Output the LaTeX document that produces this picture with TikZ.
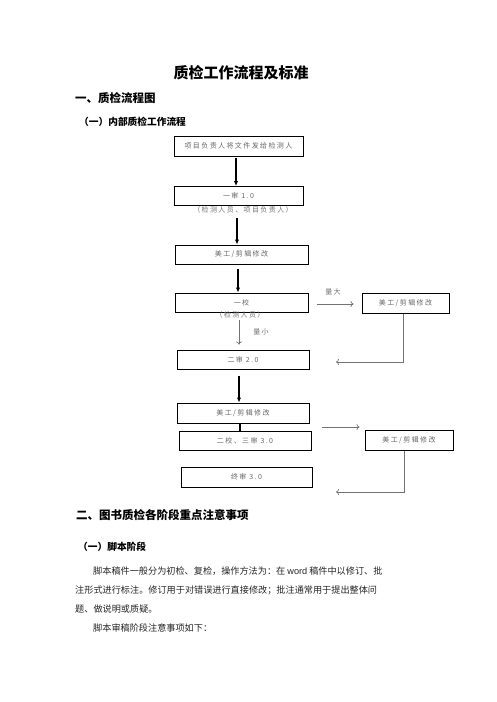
\documentclass[tikz,border=0pt]{standalone}
\usepackage{fontspec}
\setmainfont{Liberation Sans}
\newfontfamily\cjk{Noto Sans CJK SC}
\newfontfamily\cjkbox[LetterSpace=20]{Noto Sans CJK SC}
\usetikzlibrary{arrows.meta}
\tikzset{
  box/.style={draw, line width=1pt, inner sep=0pt, minimum height=19pt,
    font=\cjkbox\fontsize{7}{8}\selectfont, text=black!60},
  small/.style={inner sep=0pt, font=\cjkbox\fontsize{7}{8}\selectfont, text=black!55},
  thickarr/.style={line width=1.6pt, -{Latex[length=5pt,width=4.5pt]}},
  thickline/.style={line width=1.8pt},
  thinarr/.style={draw=black!55, line width=0.7pt, -{To[length=3pt,width=6pt]}},
  head/.style={anchor=west, inner sep=0pt, font=\cjk\bfseries\fontsize{11.5}{13}\selectfont},
  subhead/.style={anchor=west, inner sep=0pt, font=\cjk\bfseries\fontsize{9.7}{11}\selectfont},
  body/.style={anchor=west, inner sep=0pt, font=\cjk\fontsize{9.15}{11}\selectfont, text=black!85},
}
\begin{document}
\begin{tikzpicture}[x=1pt,y=-1pt]
\useasboundingbox (0,0) rectangle (496,702);
\fill[white] (0,0) rectangle (496,702);

% headings
\node[inner sep=0pt, font=\cjk\bfseries\fontsize{15}{18}\selectfont] (title) at (241,73) {质检工作流程及标准};
\node[head] (h1) at (75,98) {一、质检流程图};
\node[subhead] (h11) at (79,122) {（一）内部质检工作流程};

% flow boxes
\node[box, minimum width=129pt, minimum height=20pt] (b1) at (238.5,146) {项目负责人将文件发给检测人};
\node[box, minimum width=129pt] (b2) at (238.5,196) {一审 1.0};
\node[small] (sub2) at (243,209.5) {（检测人员、项目负责人）};
\node[box, minimum width=133pt] (b3) at (241.5,254.5) {美工/剪辑修改};
\node[box, minimum width=133pt] (b4) at (241.5,302.5) {一校};
\node[small] (sub4) at (240,314.5) {（检测人员）};
\node[box, minimum width=87pt, minimum height=20pt] (r1) at (405.5,303) {美工/剪辑修改};
\node[box, minimum width=132pt] (b5) at (243,359.5) {二审 2.0};
\node[box, minimum width=132pt, minimum height=20pt] (b6) at (243,413) {美工/剪辑修改};
\node[box, minimum width=132pt] (b7) at (245,440.5) {二校、三审 3.0};
\node[box, minimum width=88pt, minimum height=20pt] (r2) at (409,440) {美工/剪辑修改};
\node[box, minimum width=131pt, minimum height=20pt] (b8) at (246.5,477) {终审 3.0};

% labels
\node[small] (lda) at (333,292) {量大};
\node[small] (lxiao) at (261,332) {量小};

% column coordinates and free ends
\coordinate (xa) at (236,0);
\coordinate (xb) at (237,0);
\coordinate (xc) at (238,0);
\coordinate (xd) at (239,0);
\coordinate (xe) at (240,0);
\coordinate (ret1) at (336,362);
\coordinate (s2) at (322,427);
\coordinate (ret2) at (336,492);

% connectors
\draw[thickarr, shorten <=1pt] (b1.south -| xa) -- (b2.north -| xa);
\draw[thickarr, shorten <=5pt] (sub2.south -| xb) -- (b3.north -| xb);
\draw[thickarr, shorten <=4pt] (b3.south -| xc) -- (b4.north -| xc);
\draw[thinarr, shorten <=2pt, shorten >=5pt] (sub4.south -| xd) -- (b5.north -| xd);
\draw[thinarr, shorten <=8pt, shorten >=8pt] ([yshift=-1.5pt]b4.east) -- ([yshift=-1.5pt]b4.east -| r1.west);
\draw[thinarr] ([xshift=-2.5pt]r1.south) |- (ret1);
\draw[thickarr, shorten <=6pt] (b5.south -| xd) -- (b6.north -| xd);
\draw[thickline] (b6.south -| xe) -- (b7.north -| xe);
\draw[thinarr, shorten >=5pt] (s2) -- (s2 -| r2.west);
\draw[thinarr] ([xshift=-5pt]r2.south) |- (ret2);

% section two
\node[head] (h2) at (76,515) {二、图书质检各阶段重点注意事项};
\node[subhead] (h21) at (78,547) {（一）脚本阶段};
\node[body] (p1) at (93,571) {脚本稿件一般分为初检、复检，操作方法为：在 {\rmfamily word} 稿件中以修订、批};
\node[body] (p2) at (75,590) {注形式进行标注。修订用于对错误进行直接修改；批注通常用于提出整体问};
\node[body] (p3) at (75,609) {题、做说明或质疑。};
\node[body] (p4) at (93,628) {脚本审稿阶段注意事项如下：};
\end{tikzpicture}
\end{document}
